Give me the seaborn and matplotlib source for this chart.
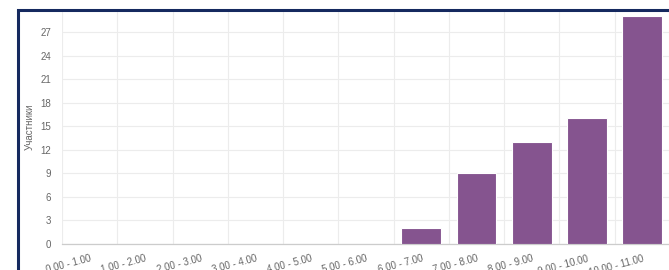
import matplotlib
matplotlib.use('Agg')
import matplotlib.pyplot as plt
import matplotlib.patches as mpatches
import seaborn as sns
import pandas as pd
import numpy as np

ranges = ['0.00 - 1.00', '1.00 - 2.00', '2.00 - 3.00', '3.00 - 4.00', '4.00 - 5.00',
          '5.00 - 6.00', '6.00 - 7.00', '7.00 - 8.00', '8.00 - 9.00', '9.00 - 10.00',
          '10.00 - 11.00']
participants = [0, 0, 0, 0, 0, 0, 2, 9, 13, 16, 29]
y_ticks = [0, 3, 6, 9, 12, 15, 18, 21, 24, 27]

df = pd.DataFrame({'range': ranges, 'count': participants})

sns.set_style('white')
plt.rcParams['font.family'] = ['Liberation Sans', 'DejaVu Sans']

fig = plt.figure(figsize=(6.69, 2.70), dpi=100)
ax = fig.add_axes([62 / 669, 26 / 270, 608 / 669, 232 / 270])

sns.barplot(data=df, x='range', y='count', color='#85548f', width=0.72,
            edgecolor='white', linewidth=0.8, saturation=1, ax=ax, zorder=3)

ax.set_xlim(-0.5, len(ranges) - 0.5)
ax.set_ylim(0, 29.55)
ax.set_yticks(y_ticks)
ax.set_xticks(np.arange(-0.5, len(ranges)), minor=True)

ax.grid(axis='y', which='major', color='#ececec', linewidth=0.8, zorder=0)
ax.grid(axis='x', which='minor', color='#ececec', linewidth=0.8, zorder=0)
ax.grid(axis='x', which='major', visible=False)

ax.tick_params(axis='y', labelsize=7, colors='#666666', length=7, color='#e0e0e0',
               width=0.8, pad=1)
ax.tick_params(axis='x', which='major', labelsize=7, colors='#666666', length=0, pad=7)
ax.tick_params(axis='x', which='minor', length=6, color='#e6e6e6', width=0.8)
plt.setp(ax.get_xticklabels(), rotation=15, ha='right', va='top', rotation_mode='anchor')

for side in ['top', 'right', 'left']:
    ax.spines[side].set_visible(False)
ax.spines['bottom'].set_color('#cccccc')
ax.spines['bottom'].set_linewidth(0.9)

ax.set_xlabel('')
ax.set_ylabel('Участники', fontsize=7, color='#666666')
ax.yaxis.set_label_coords((30 - 62) / 608, (244 - 127) / 232)
ax.yaxis.label.set_va('center')

# navy frame of the screenshot
frame = mpatches.Rectangle((17.5 / 669, -0.1), 1.2, (270 - 10) / 270 + 0.1,
                           transform=fig.transFigure, fill=False,
                           edgecolor='#15295f', linewidth=2.2, clip_on=False)
fig.patches.append(frame)

fig.savefig('out.png', dpi=100)
